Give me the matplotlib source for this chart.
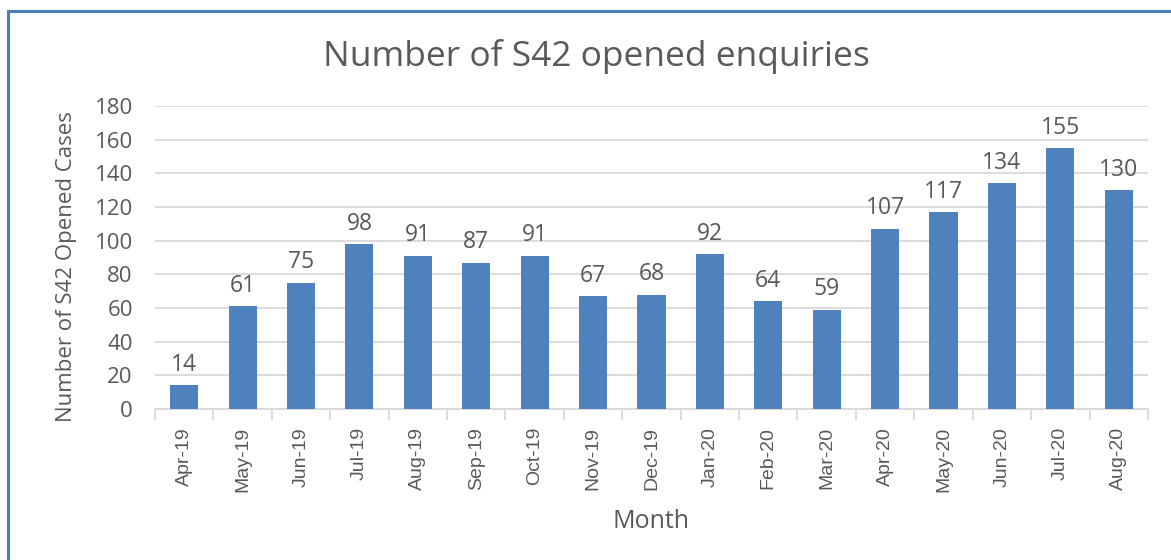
import matplotlib
matplotlib.use('Agg')
import matplotlib.pyplot as plt
from matplotlib.patches import Rectangle

months = ['Apr-19', 'May-19', 'Jun-19', 'Jul-19', 'Aug-19', 'Sep-19', 'Oct-19',
          'Nov-19', 'Dec-19', 'Jan-20', 'Feb-20', 'Mar-20', 'Apr-20', 'May-20',
          'Jun-20', 'Jul-20', 'Aug-20']
cases = [14, 61, 75, 98, 91, 87, 91, 67, 68, 92, 64, 59, 107, 117, 134, 155, 130]

plt.rcParams['font.family'] = ['Open Sans', 'DejaVu Sans']
text_col = '#595959'

fig = plt.figure(figsize=(11.71, 5.6), dpi=100)
ax = fig.add_axes([0.1324, 0.2696, 0.8479, 0.5411])

# outer chart border (right/bottom edges run off the image)
fig.patches.append(Rectangle((8 / 1171, -0.05), 1.2, 1 - 11 / 560 + 0.05,
                             transform=fig.transFigure, fill=False,
                             edgecolor='#4A7EBB', linewidth=2.2))

x = range(len(months))
bars = ax.bar(x, cases, width=0.48, color='#4F81BD', zorder=3)

for xi, v in zip(x, cases):
    ax.text(xi, v + 5, str(v), ha='center', va='bottom', fontsize=16.5, color=text_col)

ax.set_xlim(-0.5, len(months) - 0.5)
ax.set_ylim(0, 180)
ax.set_yticks(range(0, 181, 20))
ax.yaxis.grid(True, color='#D9D9D9', linewidth=1.3, zorder=0)
ax.tick_params(axis='y', length=0, labelsize=16, labelcolor=text_col, pad=16)

ax.set_xticks(x)
ax.set_xticklabels(months, rotation=90, fontsize=14, color=text_col,
                   family=['Liberation Sans', 'DejaVu Sans'])
ax.set_xticks([i - 0.5 for i in range(len(months) + 1)], minor=True)
ax.tick_params(axis='x', which='major', length=0, pad=13)
ax.tick_params(axis='x', which='minor', length=8, color='#D9D9D9', width=1.3)

for s in ['top', 'right', 'left']:
    ax.spines[s].set_visible(False)
ax.spines['bottom'].set_color('#D9D9D9')
ax.spines['bottom'].set_linewidth(1.3)

ax.set_ylabel('Number of S42 Opened Cases', fontsize=16, color=text_col)
ax.yaxis.set_label_coords(-0.079, 0.47)
ax.set_xlabel('Month', fontsize=18, color=text_col, labelpad=12)
fig.text(0.509, 0.9, 'Number of S42 opened enquiries', ha='center', va='center',
         fontsize=25.5, color=text_col)

plt.savefig('out.png', dpi=100)
plt.close()
